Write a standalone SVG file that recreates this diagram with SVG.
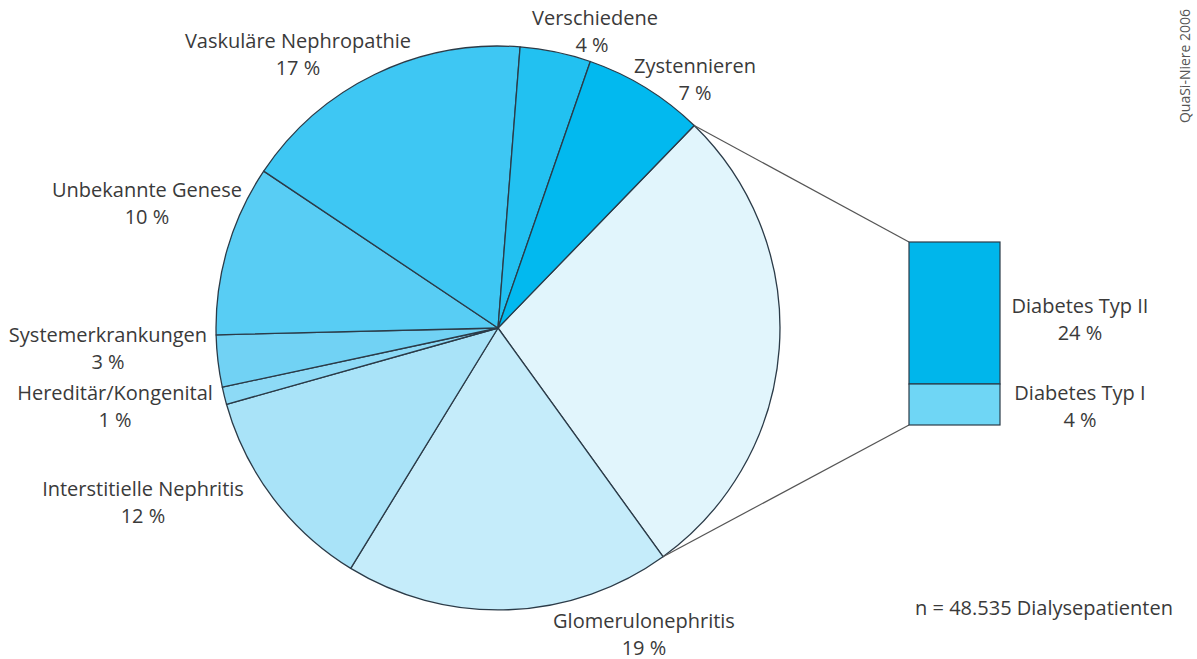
<svg xmlns="http://www.w3.org/2000/svg" width="1197" height="659" viewBox="0 0 1197 659">
<style>
.s{stroke:#2b3b48;stroke-width:1.3;stroke-linejoin:round}
.t{font-family:"Open Sans","Noto Sans","Liberation Sans",sans-serif;font-size:20px;fill:#3a3a3a;text-anchor:middle}
.c{stroke:#555;stroke-width:1.2;fill:none}
</style>
<rect width="1197" height="659" fill="#fff"/>
<g id="slices">
<g id="diabetes"><path class="s" fill="#e1f5fc" d="M498,328 L694.2,125.5 A282,282 0 0 1 663,556.7 Z"/></g>
<g id="glomerulonephritis"><path class="s" fill="#c5ecfa" d="M498,328 L663,556.7 A282,282 0 0 1 350.7,568.4 Z"/></g>
<g id="interstitielle"><path class="s" fill="#a9e3f8" d="M498,328 L350.7,568.4 A282,282 0 0 1 226.5,404.3 Z"/></g>
<g id="hereditaer"><path class="s" fill="#8ddaf6" d="M498,328 L226.5,404.3 A282,282 0 0 1 222.3,387.1 Z"/></g>
<g id="systemerkrankungen"><path class="s" fill="#71d2f4" d="M498,328 L222.3,387.1 A282,282 0 0 1 216.1,334.9 Z"/></g>
<g id="unbekannte"><path class="s" fill="#58cdf4" d="M498,328 L216.1,334.9 A282,282 0 0 1 263.7,171.1 Z"/></g>
<g id="vaskulaere"><path class="s" fill="#3ec7f3" d="M498,328 L263.7,171.1 A282,282 0 0 1 520.1,46.9 Z"/></g>
<g id="verschiedene"><path class="s" fill="#22c1f1" d="M498,328 L520.1,46.9 A282,282 0 0 1 590.3,61.5 Z"/></g>
<g id="zystennieren"><path class="s" fill="#02b9ef" d="M498,328 L590.3,61.5 A282,282 0 0 1 694.2,125.5 Z"/></g>
</g>
<g id="connectors">
<line class="c" x1="694.2" y1="125.5" x2="909" y2="242"/>
<line class="c" x1="663" y1="556.7" x2="909" y2="425"/>
</g>
<g id="bar">
<g id="typ2"><rect x="909" y="242" width="91" height="142" fill="#00b6eb" stroke="#2b3b48" stroke-width="1.2"/></g>
<g id="typ1"><rect x="909" y="384" width="91" height="41" fill="#6fd6f5" stroke="#2b3b48" stroke-width="1.2"/></g>
</g>
<g id="labels">
<text class="t" x="595" y="25">Verschiedene</text>
<text class="t" x="592" y="52">4 %</text>
<text class="t" x="695" y="73">Zystennieren</text>
<text class="t" x="695" y="100">7 %</text>
<text class="t" x="298" y="48">Vaskuläre Nephropathie</text>
<text class="t" x="298" y="75">17 %</text>
<text class="t" x="147" y="197">Unbekannte Genese</text>
<text class="t" x="147" y="224">10 %</text>
<text class="t" x="108" y="342">Systemerkrankungen</text>
<text class="t" x="108" y="369">3 %</text>
<text class="t" x="115" y="400">Hereditär/Kongenital</text>
<text class="t" x="115" y="427">1 %</text>
<text class="t" x="143" y="496">Interstitielle Nephritis</text>
<text class="t" x="143" y="523">12 %</text>
<text class="t" x="644" y="628">Glomerulonephritis</text>
<text class="t" x="644" y="655">19 %</text>
<text class="t" x="1080" y="313">Diabetes Typ II</text>
<text class="t" x="1080" y="340">24 %</text>
<text class="t" x="1080" y="400">Diabetes Typ I</text>
<text class="t" x="1080" y="427">4 %</text>
<text class="t" x="1044" y="615">n = 48.535 Dialysepatienten</text>
<text x="1190" y="66" transform="rotate(-90 1190 66)" style="font-family:'Open Sans','Noto Sans',sans-serif;font-size:14px;fill:#555;text-anchor:middle">QuaSi-Niere 2006</text>
</g>
</svg>
